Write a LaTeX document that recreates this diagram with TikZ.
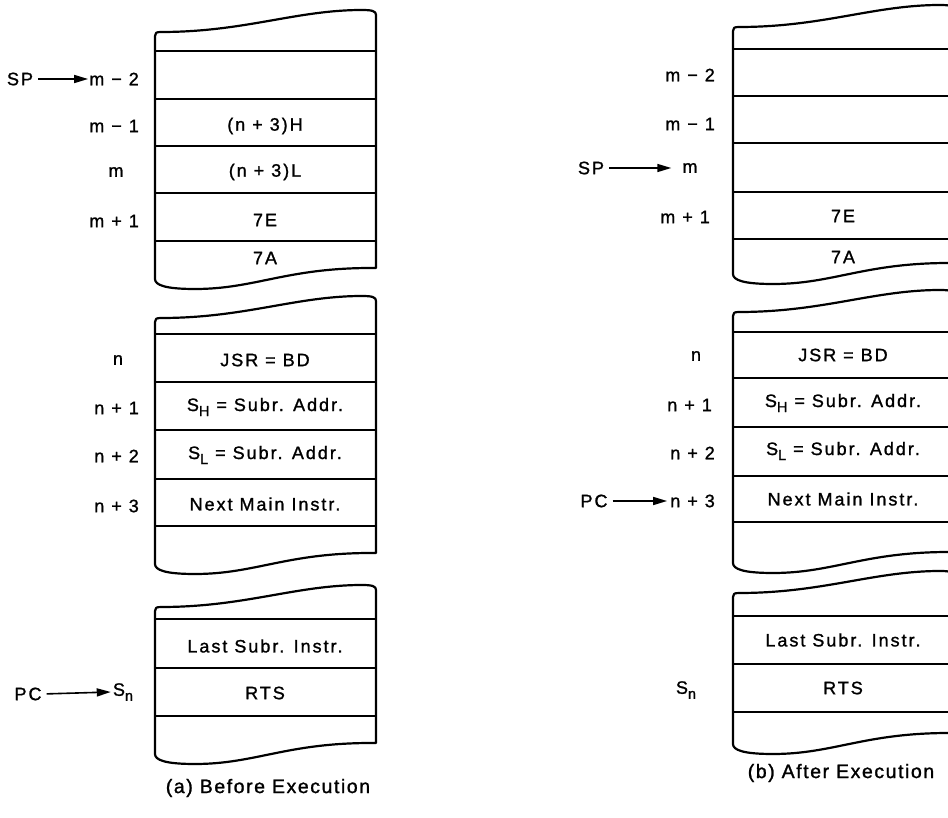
\documentclass[tikz,border=0pt]{standalone}
\usepackage{fontspec}
\setmainfont{Liberation Sans}[LetterSpace=11,FakeBold=1.2]
\newfontfamily\capfont{Liberation Sans}[LetterSpace=8,FakeBold=1.3]
\usetikzlibrary{arrows.meta}
\newcommand\sbs[1]{\raisebox{-5pt}{\fontsize{14.5}{14.5}\selectfont #1}}
\tikzset{
  blk/.style={line width=2.2pt, line join=round},
  rowline/.style={line width=1.8pt},
  cell/.style={font=\fontsize{18}{21}\selectfont, inner sep=1pt},
  lbl/.style={font=\fontsize{18}{21}\selectfont, inner sep=1pt},
  capt/.style={font=\capfont\fontsize{19.5}{22}\selectfont, inner sep=1pt},
  ptr/.style={line width=1.6pt, shorten <=4pt, -{Triangle[length=14pt,width=8pt]}},
}
\newcommand\memblk[4]{% L R ytop ybot
  \draw[blk] (#1,{#3+4}) -- (#1,{#4-4})
    .. controls (#1,{#4+2}) and ({#1+10},{#4+6}) .. ({#1+40},{#4+6})
    .. controls ({#1+100},{#4+6}) and ({#2-90},{#4-15}) .. ({#2-5},{#4-15})
    -- (#2,{#4-15})
    -- (#2,{#3-17})
    .. controls (#2,{#3-21}) and ({#2-4},{#3-22}) .. ({#2-14},{#3-22})
    .. controls ({#2-80},{#3-22}) and ({#1+90},#3) .. ({#1+6},#3)
    .. controls ({#1+1},#3) and (#1,{#3+1}) .. cycle;
}
\begin{document}
\begin{tikzpicture}[x=1pt,y=-1pt]
\useasboundingbox (0,0) rectangle (948,818);
\clip (0,0) rectangle (948,818);
\fill[white] (0,0) rectangle (948,818);

% ---------- (a) Before Execution ----------
\memblk{155}{376}{32}{283}
\foreach \yy in {51,99,146,193,241} \draw[rowline] (155,\yy) -- (376,\yy);
\memblk{155}{376}{318}{568}
\foreach \yy in {334,382,430,479,526} \draw[rowline] (155,\yy) -- (376,\yy);
\memblk{155}{376}{607}{758}
\foreach \yy in {619,668,716} \draw[rowline] (155,\yy) -- (376,\yy);

\node[cell] (a3h) at (265,126) {(n + 3)H};
\node[cell] (a3l) at (265,172) {(n + 3)L};
\node[cell] (a7e) at (265,220) {7E};
\node[cell] (a7a) at (265,258) {7A};
\node[cell] (ajsr) at (265,360) {JSR = BD};
\node[cell] (ash) at (265,407) {S\sbs{H} = Subr. Addr.};
\node[cell] (asl) at (265,455) {S\sbs{L} = Subr. Addr.};
\node[cell] (anext) at (265,504) {Next Main Instr.};
\node[cell] (alast) at (265,646) {Last Subr. Instr.};
\node[cell] (arts) at (265,693) {RTS};

\node[lbl, anchor=east] (am2) at (140,79) {m − 2};
\node[lbl] (asp) at (20,79) {SP};
\draw[ptr] (asp.east) -- (am2.west);
\node[lbl, anchor=east] (am1) at (140,126) {m − 1};
\node[lbl] (am) at (116,172) {m};
\node[lbl, anchor=east] (amp1) at (140,221) {m + 1};
\node[lbl] (an) at (118,360) {n};
\node[lbl, anchor=east] (an1) at (140,408) {n + 1};
\node[lbl, anchor=east] (an2) at (140,456) {n + 2};
\node[lbl, anchor=east] (an3) at (140,506) {n + 3};
\node[lbl] (apc) at (28,694) {PC};
\node[lbl] (asn) at (123,692) {S\sbs{n}};
\draw[ptr] (apc.east) -- ([xshift=-1pt]asn.west);

\node[capt] (capa) at (268,788) {(a) Before Execution};

% ---------- (b) After Execution ----------
\memblk{733}{954}{27}{278}
\foreach \yy in {49,96,143,192,239} \draw[rowline] (733,\yy) -- (954,\yy);
\memblk{733}{954}{312}{567}
\foreach \yy in {332,378,427,476,522} \draw[rowline] (733,\yy) -- (954,\yy);
\memblk{733}{954}{593}{748}
\foreach \yy in {616,664,712} \draw[rowline] (733,\yy) -- (954,\yy);

\node[cell] (b7e) at (843,216) {7E};
\node[cell] (b7a) at (843,257) {7A};
\node[cell] (bjsr) at (843,355) {JSR = BD};
\node[cell] (bsh) at (843,403) {S\sbs{H} = Subr. Addr.};
\node[cell] (bsl) at (843,451) {S\sbs{L} = Subr. Addr.};
\node[cell] (bnext) at (843,499) {Next Main Instr.};
\node[cell] (blast) at (843,640) {Last Subr. Instr.};
\node[cell] (brts) at (843,688) {RTS};

\node[lbl, anchor=east] (bm2) at (716,75) {m − 2};
\node[lbl, anchor=east] (bm1) at (716,124) {m − 1};
\node[lbl] (bsp) at (591,168) {SP};
\node[lbl] (bm) at (690,168) {m};
\draw[ptr] (bsp.east) -- ([xshift=-10pt]bm.west);
\node[lbl, anchor=east] (bmp1) at (711,217) {m + 1};
\node[lbl] (bn) at (696,356) {n};
\node[lbl, anchor=east] (bn1) at (713,405) {n + 1};
\node[lbl, anchor=east] (bn2) at (716,453) {n + 2};
\node[lbl] (bpc) at (594,501) {PC};
\node[lbl, anchor=east] (bn3) at (716,501) {n + 3};
\draw[ptr] (bpc.east) -- ([xshift=-2pt]bn3.west);
\node[lbl] (bsn) at (686,690) {S\sbs{n}};

\node[capt] (capb) at (841,773) {(b) After Execution};
\end{tikzpicture}
\end{document}
